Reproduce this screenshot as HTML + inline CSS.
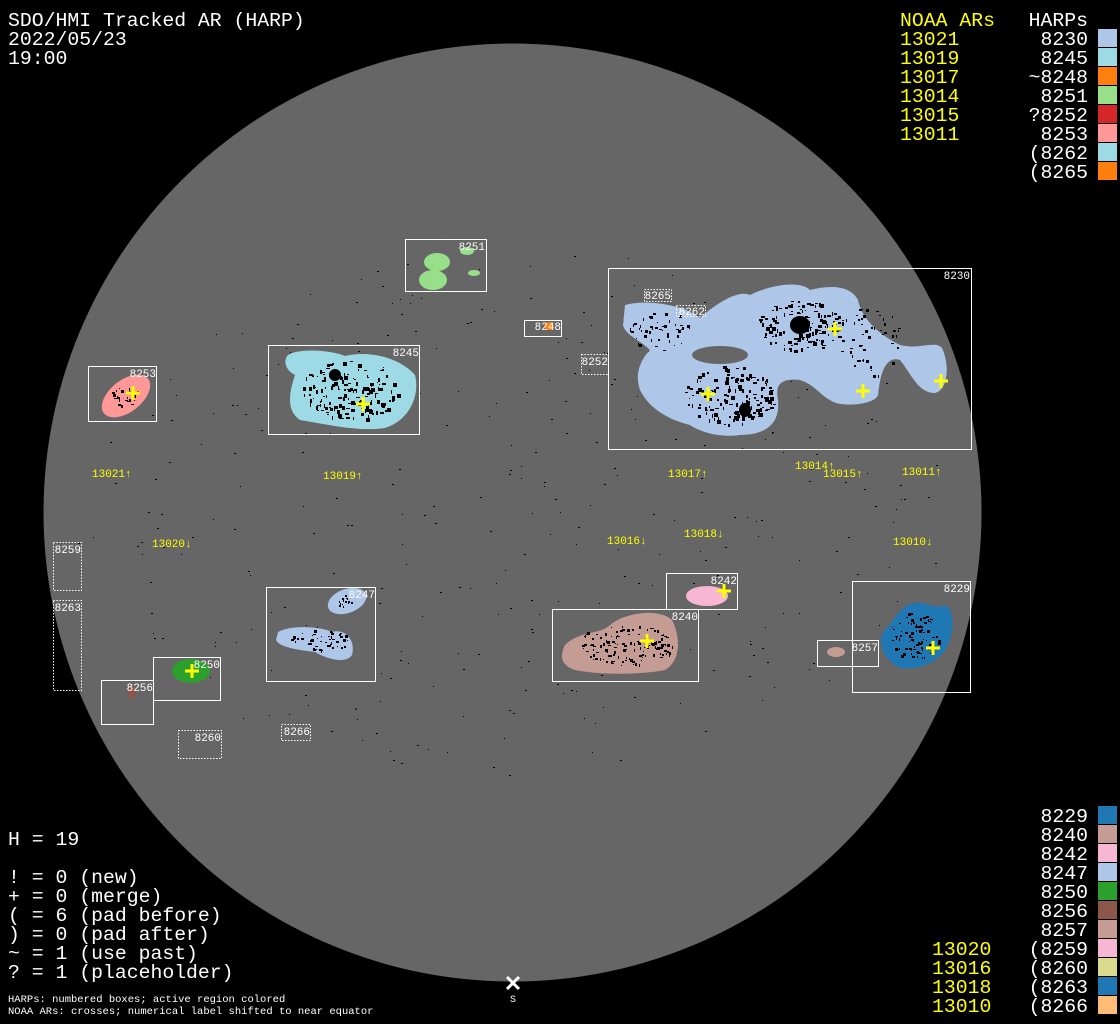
<!DOCTYPE html>
<html><head><meta charset="utf-8"><style>
html,body{margin:0;padding:0;background:#000;width:1120px;height:1024px;overflow:hidden}
svg{display:block}
.t{font-family:"Liberation Mono","DejaVu Sans Mono",monospace;font-size:19.8px}
.s{font-family:"Liberation Mono","DejaVu Sans Mono",monospace;font-size:11px}
</style></head><body>
<svg id="sv" width="1120" height="1024" viewBox="0 0 1120 1024" xmlns="http://www.w3.org/2000/svg">
<rect width="1120" height="1024" fill="#000"/>
<circle cx="512.5" cy="512.5" r="469" fill="#666"/>
<g id="spk" fill="#000"></g>
<path d="M625,305 C640,300 680,302 700,318 C720,300 740,290 750,295 C770,285 800,280 810,290 C830,285 850,285 858,300 C862,320 880,335 900,345 C920,350 935,340 942,348 C950,365 948,390 935,393 C918,393 912,375 900,360 C885,355 880,375 878,395 C875,405 840,408 830,400 C820,395 815,385 800,380 C780,378 775,385 778,400 C780,420 770,435 740,435 C720,438 700,432 690,425 C670,420 650,410 640,390 C633,370 645,355 650,350 C640,340 625,335 623,325 Z" fill="#aec7e8"/>
<ellipse cx="720" cy="355" rx="28" ry="9" fill="#666"/>
<path d="M288,355 C300,348 330,350 345,356 C370,350 400,358 415,375 C420,395 410,420 385,428 C360,432 330,425 300,420 C285,410 290,390 295,375 C285,370 283,360 288,355 Z" fill="#9edae5"/>
<ellipse cx="126" cy="396" rx="28" ry="16" transform="rotate(-38 126 396)" fill="#ff9896"/>
<ellipse cx="437" cy="262" rx="13" ry="9" fill="#98df8a"/><ellipse cx="433" cy="280" rx="14" ry="10" fill="#98df8a"/>
<ellipse cx="467" cy="251" rx="7" ry="4" fill="#98df8a"/><ellipse cx="474" cy="273" rx="6" ry="3" fill="#98df8a"/>
<ellipse cx="549" cy="326" rx="5" ry="4" fill="#ff7f0e"/>
<ellipse cx="347" cy="601" rx="20" ry="12" transform="rotate(-20 347 601)" fill="#aec7e8"/>
<path d="M278,632 C290,625 320,626 332,632 C345,628 356,640 352,655 C345,665 325,658 315,652 C300,650 280,648 276,640 Z" fill="#aec7e8"/>
<ellipse cx="191" cy="671" rx="19" ry="12" fill="#2ca02c"/>
<ellipse cx="132" cy="692" rx="4" ry="7" fill="#8c564b"/>
<path d="M565,645 C580,630 600,635 610,625 C625,612 660,608 672,620 C680,635 682,660 665,670 C640,675 600,675 575,670 C560,665 560,655 565,645 Z" fill="#c49c94"/>
<ellipse cx="707" cy="596" rx="21" ry="10" fill="#f7b6d2"/>
<ellipse cx="836" cy="652" rx="9" ry="5" fill="#c49c94"/>
<path d="M885,630 C895,620 900,605 915,603 C930,602 935,610 945,605 C955,610 955,635 945,650 C935,665 915,670 900,668 C885,662 875,640 885,630 Z" fill="#1f77b4"/>
<g id="inner" fill="#000"></g>
<g fill="none" stroke="#fff" stroke-width="1">
<rect x="405.5" y="239.5" width="81" height="52"/>
<rect x="524.5" y="320.5" width="37" height="16"/>
<rect x="608.5" y="268.5" width="363" height="181"/>
<rect x="268.5" y="345.5" width="151" height="89"/>
<rect x="88.5" y="366.5" width="68" height="55"/>
<rect x="266.5" y="587.5" width="109" height="94"/>
<rect x="153.5" y="657.5" width="67" height="43"/>
<rect x="101.5" y="680.5" width="52" height="44"/>
<rect x="666.5" y="573.5" width="71" height="36"/>
<rect x="552.5" y="609.5" width="146" height="72"/>
<rect x="817.5" y="640.5" width="61" height="26"/>
<rect x="852.5" y="581.5" width="118" height="111"/>
</g>
<g fill="none" stroke="#fff" stroke-width="1" stroke-dasharray="1.5,1.5">
<rect x="644.5" y="289.5" width="27" height="12"/>
<rect x="676.5" y="305.5" width="29" height="11"/>
<rect x="581.5" y="354.5" width="27" height="20"/>
<rect x="53.5" y="542.5" width="28" height="48"/>
<rect x="53.5" y="600.5" width="28" height="90"/>
<rect x="178.5" y="730.5" width="43" height="28"/>
<rect x="281.5" y="724.5" width="29" height="16"/>
</g>
<g class="s" fill="#fff" text-anchor="end">
<text x="485" y="250">8251</text><text x="561" y="330">8248</text><text x="970" y="279">8230</text>
<text x="671" y="299">8265</text><text x="705" y="315">8262</text><text x="608" y="365">8252</text>
<text x="419" y="356">8245</text><text x="156" y="377">8253</text><text x="81" y="553">8259</text>
<text x="81" y="611">8263</text><text x="375" y="598">8247</text><text x="220" y="668">8250</text>
<text x="153" y="691">8256</text><text x="221" y="741">8260</text><text x="310" y="735">8266</text>
<text x="737" y="584">8242</text><text x="698" y="620">8240</text><text x="878" y="651">8257</text>
<text x="970" y="592">8229</text>
</g>
<g id="cross" stroke="#ff0" stroke-width="3"></g>
<g class="s" fill="#ff0">
<text x="92" y="477">13021↑</text><text x="323" y="479">13019↑</text><text x="668" y="477">13017↑</text>
<text x="795" y="469">13014↑</text><text x="823" y="477">13015↑</text><text x="902" y="475">13011↑</text>
<text x="152" y="547">13020↓</text><text x="607" y="544">13016↓</text><text x="684" y="537">13018↓</text>
<text x="893" y="545">13010↓</text>
</g>
<g stroke="#fff" stroke-width="3"><line x1="507" y1="977" x2="519" y2="989"/><line x1="519" y1="977" x2="507" y2="989"/></g>
<text x="513" y="1002" class="s" fill="#fff" text-anchor="middle" style="font-size:10px">S</text>
<g class="t" fill="#fff">
<text x="8" y="26">SDO/HMI Tracked AR (HARP)</text>
<text x="8" y="45">2022/05/23</text>
<text x="8" y="64">19:00</text>
<text x="8" y="845">H = 19</text>
<text x="8" y="883">! = 0 (new)</text>
<text x="8" y="902">+ = 0 (merge)</text>
<text x="8" y="921">( = 6 (pad before)</text>
<text x="8" y="940">) = 0 (pad after)</text>
<text x="8" y="959">~ = 1 (use past)</text>
<text x="8" y="978">? = 1 (placeholder)</text>
</g>
<g class="s" fill="#fff" style="font-size:10.5px"><text x="8" y="1002">HARPs: numbered boxes; active region colored</text><text x="8" y="1014">NOAA ARs: crosses; numerical label shifted to near equator</text></g>
<g class="t" fill="#ff0">
<text x="900" y="26">NOAA ARs</text>
<text x="900" y="45">13021</text><text x="900" y="64">13019</text><text x="900" y="83">13017</text>
<text x="900" y="102">13014</text><text x="900" y="121">13015</text><text x="900" y="140">13011</text>
<text x="932" y="955">13020</text><text x="932" y="974">13016</text><text x="932" y="993">13018</text><text x="932" y="1012">13010</text>
</g>
<g class="t" fill="#fff" text-anchor="end">
<text x="1088" y="26">HARPs</text>
<text x="1088" y="45">8230</text><text x="1088" y="64">8245</text><text x="1088" y="83">~8248</text>
<text x="1088" y="102">8251</text><text x="1088" y="121">?8252</text><text x="1088" y="140">8253</text>
<text x="1088" y="159">(8262</text><text x="1088" y="178">(8265</text>
<text x="1088" y="822">8229</text><text x="1088" y="841">8240</text><text x="1088" y="860">8242</text>
<text x="1088" y="879">8247</text><text x="1088" y="898">8250</text><text x="1088" y="917">8256</text>
<text x="1088" y="936">8257</text><text x="1088" y="955">(8259</text><text x="1088" y="974">(8260</text>
<text x="1088" y="993">(8263</text><text x="1088" y="1012">(8266</text>
</g>
<g id="sw"></g>
</svg>
<script>
(function(){
var NS="http://www.w3.org/2000/svg";
function el(p,t,a){var e=document.createElementNS(NS,t);for(var k in a)e.setAttribute(k,a[k]);p.appendChild(e);return e;}
var sw=document.getElementById("sw");
var topC=["#aec7e8","#9edae5","#ff7f0e","#98df8a","#d62728","#ff9896","#9edae5","#ff7f0e"];
topC.forEach(function(c,i){el(sw,"rect",{x:1098,y:29+i*19,width:19,height:18,fill:c});});
var bot=["#1f77b4","#c49c94","#f7b6d2","#aec7e8","#2ca02c","#8c564b","#c49c94","#f7b6d2","#dbdb8d","#1f77b4","#ffbb78"];
bot.forEach(function(c,i){el(sw,"rect",{x:1098,y:806+i*19,width:19,height:18,fill:c});});
var cr=document.getElementById("cross");
[[835,329],[863,391],[941,381],[708,394],[363,404],[133,393],[192,671],[724,591],[647,641],[933,648]].forEach(function(p){
el(cr,"line",{x1:p[0]-7,y1:p[1],x2:p[0]+7,y2:p[1]});el(cr,"line",{x1:p[0],y1:p[1]-7,x2:p[0],y2:p[1]+7});});
var s=12345;function r(){s=(s*1103515245+12345)%2147483648;return s/2147483648;}
var spk=document.getElementById("spk");
for(var i=0;i<350;i++){var a=r()*6.283,d=Math.sqrt(r())*440;var x=512+d*Math.cos(a),y=512+d*Math.sin(a)*0.6;
el(spk,"rect",{x:x.toFixed(0),y:y.toFixed(0),width:1+Math.floor(r()*2),height:1});}
var inn=document.getElementById("inner");
function cl(cx,cy,rx,ry,n,sz){for(var i=0;i<n;i++){var a=r()*6.283,d=Math.sqrt(r());el(inn,"rect",{x:(cx+d*rx*Math.cos(a)).toFixed(0),y:(cy+d*ry*Math.sin(a)).toFixed(0),width:1+Math.floor(r()*sz),height:1+Math.floor(r()*sz)});}}
cl(800,325,45,25,150,4);cl(730,395,45,30,150,4);cl(660,330,30,20,50,3);cl(870,340,30,40,50,3);
cl(350,390,50,30,160,4);cl(125,396,15,10,25,3);cl(320,640,30,10,50,3);cl(625,645,50,20,130,3);cl(915,635,25,25,80,3);cl(345,600,12,6,15,2);
el(inn,"ellipse",{cx:800,cy:325,rx:10,ry:9});el(inn,"ellipse",{cx:745,cy:410,rx:6,ry:7});el(inn,"ellipse",{cx:335,cy:375,rx:6,ry:6});
})();
</script>
</body></html>
